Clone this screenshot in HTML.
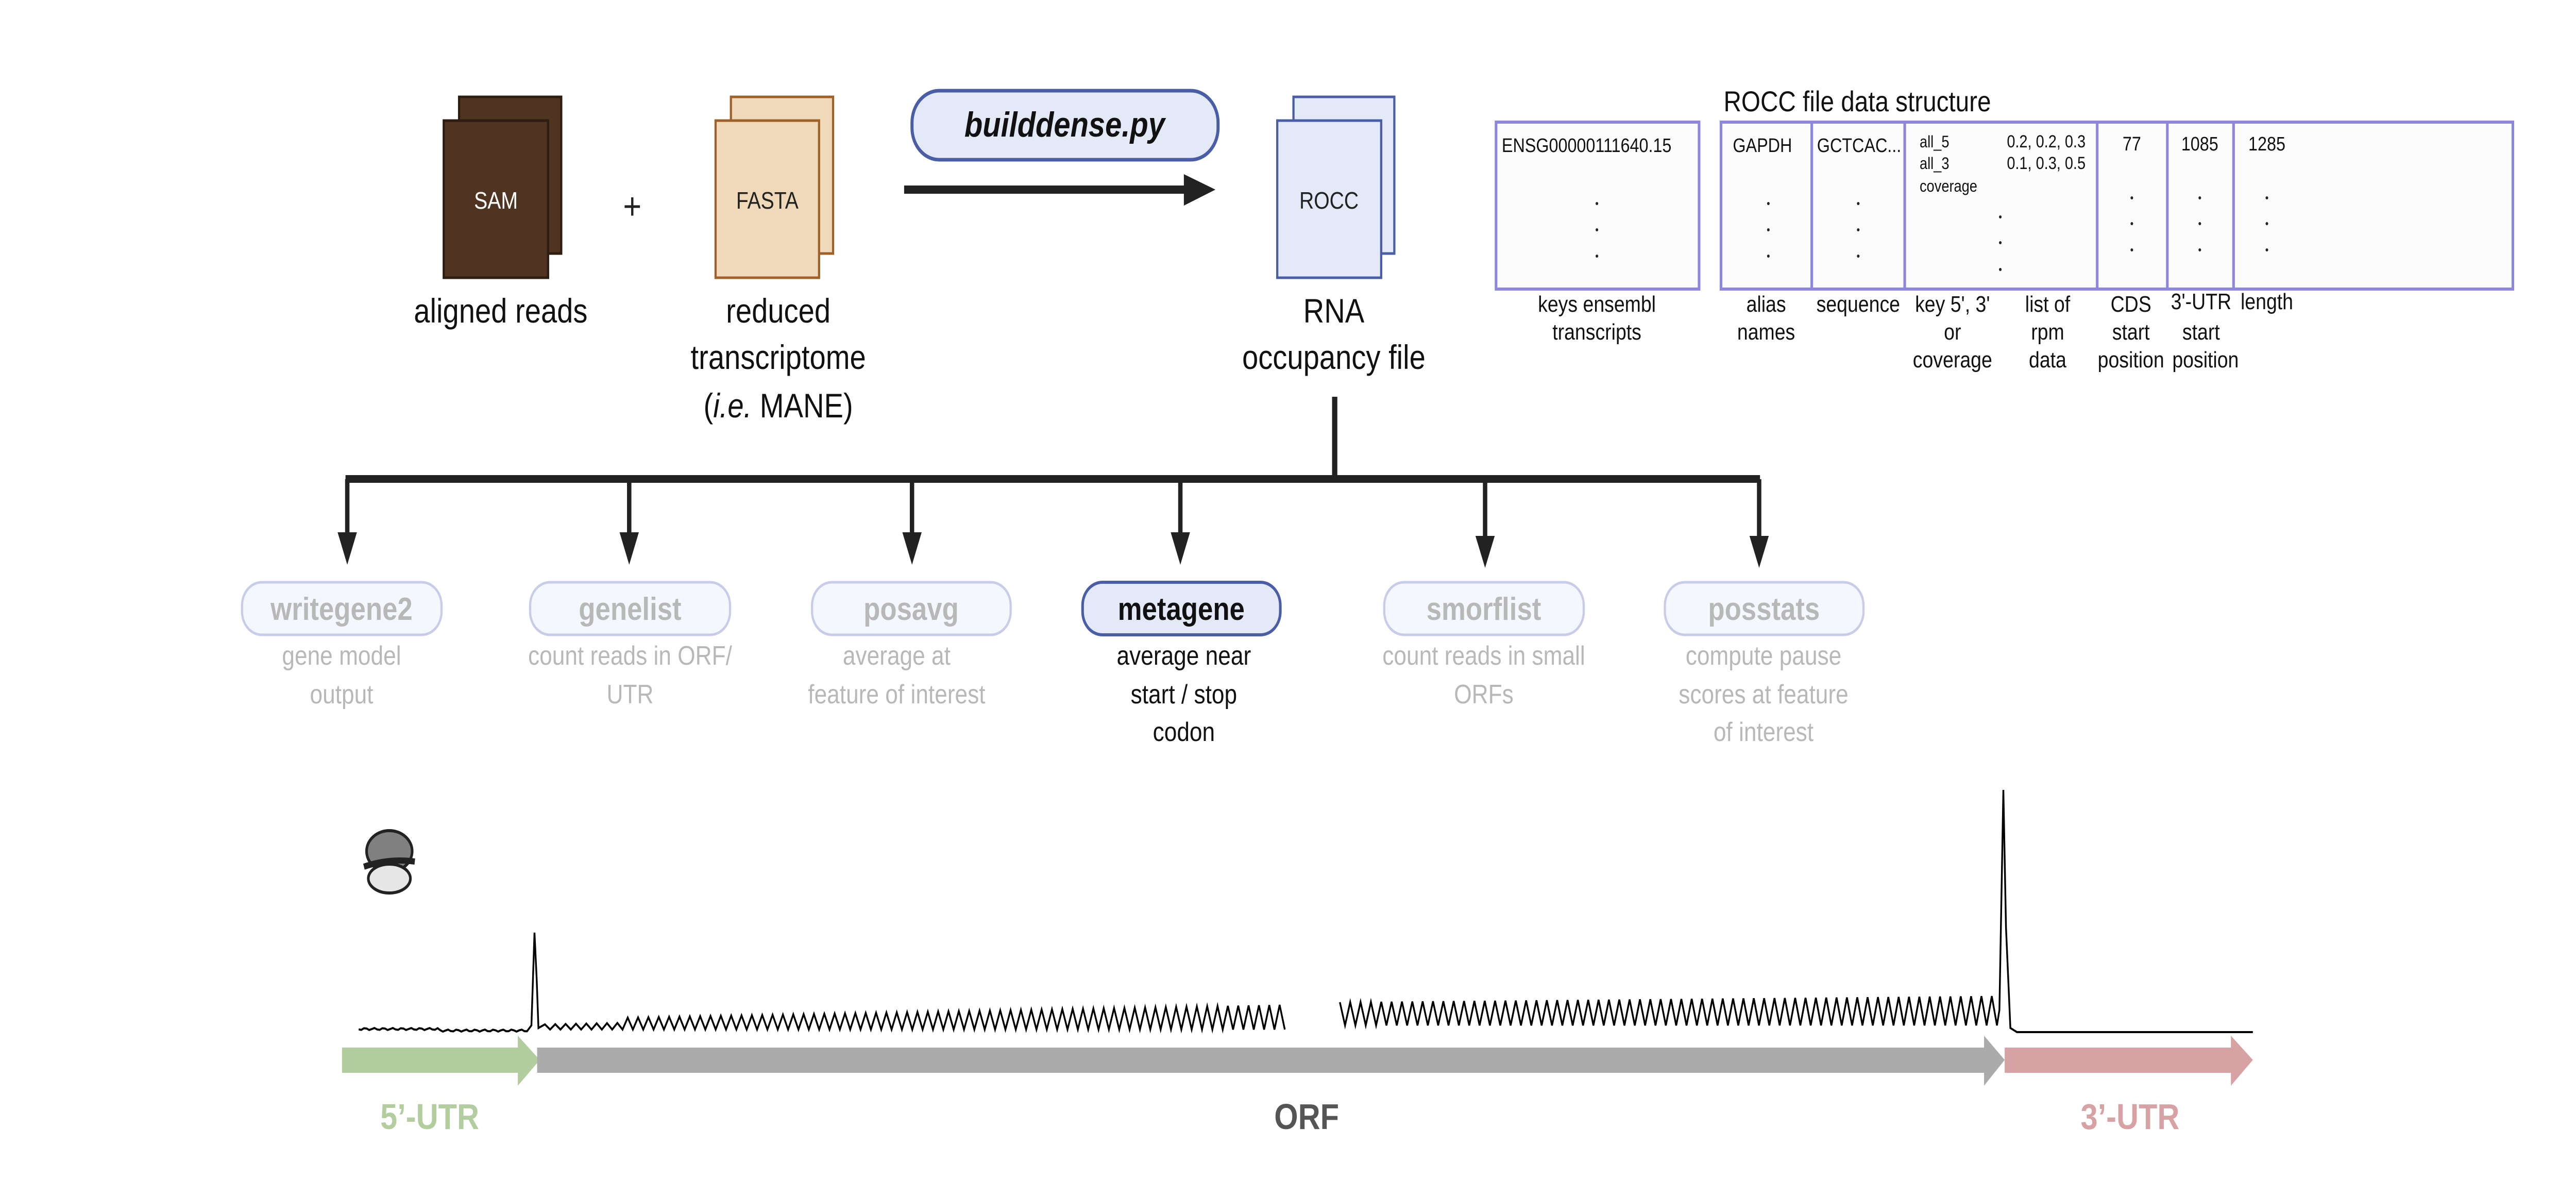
<!DOCTYPE html>
<html><head><meta charset="utf-8">
<style>
html,body{margin:0;padding:0;background:#fff;width:100%;height:100%;overflow:hidden;}
svg{display:block;font-family:"Liberation Sans",Arial,sans-serif;width:100vw;height:100vh;}
</style></head>
<body>
<svg id="s" viewBox="0 0 5875 2323" preserveAspectRatio="none" xmlns="http://www.w3.org/2000/svg">
<rect width="5875" height="2323" fill="#fff"/>
<!-- SAM -->
<rect x="1047" y="188" width="233" height="304" fill="#4f3422" stroke="#2e1c10" stroke-width="5"/>
<rect x="1012" y="234" width="238" height="305" fill="#4f3422" stroke="#2e1c10" stroke-width="5"/>
<text x="1131" y="405" font-size="46" fill="#fff" text-anchor="middle">SAM</text>
<text x="1442" y="425" font-size="72" fill="#222" text-anchor="middle">+</text>
<!-- FASTA -->
<rect x="1667" y="188" width="233" height="304" fill="#efd9b8" stroke="#a0602a" stroke-width="5"/>
<rect x="1632" y="234" width="236" height="305" fill="#efd9b8" stroke="#a0602a" stroke-width="5"/>
<text x="1750" y="405" font-size="46" fill="#222" text-anchor="middle">FASTA</text>
<!-- ROCC -->
<rect x="2950" y="188" width="230" height="304" fill="#e4e9f8" stroke="#4a5ea8" stroke-width="5"/>
<rect x="2913" y="234" width="237" height="305" fill="#e4e9f8" stroke="#4a5ea8" stroke-width="5"/>
<text x="3031" y="405" font-size="46" fill="#222" text-anchor="middle">ROCC</text>
<!-- pill -->
<rect x="2080" y="176" width="698" height="134" rx="62" fill="#e4e9f8" stroke="#4a5ea8" stroke-width="7"/>
<text x="2428" y="265" font-size="68" font-weight="bold" font-style="italic" fill="#111" text-anchor="middle">builddense.py</text>
<!-- arrow -->
<rect x="2062" y="360" width="640" height="16" fill="#222"/>
<polygon points="2700,338 2772,368 2700,399" fill="#222"/>
<!-- labels -->
<g font-size="66" fill="#111" text-anchor="middle">
<text x="1142" y="626">aligned reads</text>
<text x="1775" y="626">reduced</text>
<text x="1775" y="716">transcriptome</text>
<text x="1775" y="810">(<tspan font-style="italic">i.e.</tspan> MANE)</text>
<text x="3042" y="626">RNA</text>
<text x="3042" y="716">occupancy file</text>
</g>
<!-- ROCC table -->
<text x="3931" y="216" font-size="56" fill="#111">ROCC file data structure</text>
<g fill="none" stroke="#8e86e0" stroke-width="6">
<rect x="3412" y="237" width="463" height="324" fill="#fcfcfc"/>
<rect x="3925" y="237" width="1806" height="324" fill="#fcfcfc"/>
<line x1="4132" y1="237" x2="4132" y2="561"/>
<line x1="4344" y1="237" x2="4344" y2="561"/>
<line x1="4783" y1="237" x2="4783" y2="561"/>
<line x1="4943" y1="237" x2="4943" y2="561"/>
<line x1="5094" y1="237" x2="5094" y2="561"/>
</g>
<g font-size="38" fill="#111">
<text x="3425" y="295">ENSG00000111640.15</text>
<text x="3952" y="295">GAPDH</text>
<text x="4144" y="295">GCTCAC...</text>
<text x="4378" y="286" font-size="32">all_5</text>
<text x="4378" y="328" font-size="32">all_3</text>
<text x="4378" y="372" font-size="32">coverage</text>
<text x="4577" y="286" font-size="34">0.2, 0.2, 0.3</text>
<text x="4577" y="328" font-size="34">0.1, 0.3, 0.5</text>
<text x="4862" y="292" text-anchor="middle">77</text>
<text x="5017" y="292" text-anchor="middle">1085</text>
<text x="5170" y="292" text-anchor="middle">1285</text>
</g>
<g fill="#222">
<circle cx="3642" cy="395" r="3"/><circle cx="3642" cy="446" r="3"/><circle cx="3642" cy="497" r="3"/>
<circle cx="4033" cy="395" r="3"/><circle cx="4033" cy="446" r="3"/><circle cx="4033" cy="497" r="3"/>
<circle cx="4238" cy="395" r="3"/><circle cx="4238" cy="446" r="3"/><circle cx="4238" cy="497" r="3"/>
<circle cx="4562" cy="421" r="3"/><circle cx="4562" cy="471" r="3"/><circle cx="4562" cy="523" r="3"/>
<circle cx="4862" cy="384" r="3"/><circle cx="4862" cy="434" r="3"/><circle cx="4862" cy="485" r="3"/>
<circle cx="5017" cy="384" r="3"/><circle cx="5017" cy="434" r="3"/><circle cx="5017" cy="485" r="3"/>
<circle cx="5170" cy="384" r="3"/><circle cx="5170" cy="434" r="3"/><circle cx="5170" cy="485" r="3"/>
</g>
<g font-size="44" fill="#111" text-anchor="middle">
<text x="3642" y="605">keys ensembl</text><text x="3642" y="659">transcripts</text>
<text x="4028" y="605">alias</text><text x="4028" y="659">names</text>
<text x="4238" y="605">sequence</text>
<text x="4453" y="605">key 5', 3'</text><text x="4453" y="659">or</text><text x="4453" y="713">coverage</text>
<text x="4670" y="605">list of</text><text x="4670" y="659">rpm</text><text x="4670" y="713">data</text>
<text x="4860" y="605">CDS</text><text x="4860" y="659">start</text><text x="4860" y="713">position</text>
<text x="5020" y="600">3'-UTR</text><text x="5020" y="659">start</text><text x="5030" y="713">position</text>
<text x="5170" y="600">length</text>
</g>
<!-- tree -->
<rect x="3038" y="770" width="12" height="160" fill="#222"/>
<rect x="788" y="922" width="3226" height="15" fill="#222"/>
<g fill="#222">
<rect x="787" y="930" width="10" height="110"/><polygon points="770,1033 814,1033 792,1096"/>
<rect x="1430" y="930" width="10" height="110"/><polygon points="1413,1033 1457,1033 1435,1096"/>
<rect x="2075" y="930" width="10" height="110"/><polygon points="2058,1033 2102,1033 2080,1096"/>
<rect x="2687" y="930" width="10" height="110"/><polygon points="2670,1033 2714,1033 2692,1096"/>
<rect x="3382" y="930" width="10" height="115"/><polygon points="3365,1040 3409,1040 3387,1102"/>
<rect x="4007" y="930" width="10" height="115"/><polygon points="3990,1040 4034,1040 4012,1102"/>
</g>
<!-- pills -->
<g stroke="#c8cce8" stroke-width="5" fill="#f5f7fe">
<rect x="552" y="1130" width="455" height="102" rx="45"/>
<rect x="1209" y="1130" width="456" height="102" rx="45"/>
<rect x="1852" y="1130" width="453" height="102" rx="45"/>
<rect x="3157" y="1130" width="455" height="102" rx="45"/>
<rect x="3797" y="1130" width="453" height="102" rx="45"/>
</g>
<rect x="2469" y="1130" width="451" height="102" rx="45" fill="#e4e9f8" stroke="#4a5ea8" stroke-width="6"/>
<g font-size="62" font-weight="bold" text-anchor="middle" fill="#b8b8b8">
<text x="779" y="1203">writegene2</text>
<text x="1437" y="1203">genelist</text>
<text x="2078" y="1203">posavg</text>
<text x="2694" y="1203" fill="#111">metagene</text>
<text x="3384" y="1203">smorflist</text>
<text x="4023" y="1203">posstats</text>
</g>
<g font-size="52" text-anchor="middle" fill="#b8b8b8">
<text x="779" y="1290">gene model</text><text x="779" y="1365">output</text>
<text x="1437" y="1290">count reads in ORF/</text><text x="1437" y="1365">UTR</text>
<text x="2045" y="1290">average at</text><text x="2045" y="1365">feature of interest</text>
<g fill="#111"><text x="2700" y="1290">average near</text><text x="2700" y="1365">start / stop</text><text x="2700" y="1438">codon</text></g>
<text x="3384" y="1290">count reads in small</text><text x="3384" y="1365">ORFs</text>
<text x="4022" y="1290">compute pause</text><text x="4022" y="1365">scores at feature</text><text x="4022" y="1438">of interest</text>
</g>
<!-- ribosome -->
<ellipse cx="888" cy="1652" rx="52" ry="40" fill="#808080" stroke="#222" stroke-width="6"/>
<ellipse cx="888" cy="1705" rx="48" ry="28" fill="#e6e6e6" stroke="#222" stroke-width="6"/>
<path d="M830 1682 Q888 1665 946 1672" stroke="#222" stroke-width="12" fill="none"/>
<!-- bars -->
<polygon points="780,2033 1181,2033 1181,2010 1231,2057 1181,2107 1181,2082 780,2082" fill="#b2cd9e"/>
<polygon points="1225,2033 4525,2033 4525,2010 4572,2057 4525,2107 4525,2082 1225,2082" fill="#ababab"/>
<polygon points="4572,2033 5088,2033 5088,2010 5138,2057 5088,2107 5088,2082 4572,2082" fill="#d6a2a3"/>
<g font-size="70" font-weight="bold" text-anchor="middle">
<text x="980" y="2191" fill="#b2cd9e">5’-UTR</text>
<text x="2980" y="2191" fill="#555">ORF</text>
<text x="4858" y="2191" fill="#d6a2a3">3’-UTR</text>
</g>
<path id="tr" d="" stroke="#000" stroke-width="4" fill="none"/>
</svg>
<script>
(function(){
var p=[];var x;
for(x=818;x<=1205;x+=6){p.push([x,2000+Math.sin(x*0.3)*2+(x<1000?-3:0)]);}
p.push([1212,1990],[1219,1810],[1224,1900],[1228,1995]);
var per=23.6;
for(x=1231;x<2918;x+=per){var t=(x-1231)/(2918-1231);p.push([x+per/2,1978-28*t-(x<1400?-10:0)]);p.push([x+per,1998]);}
p.push("M");
for(x=3044;x<4545;x+=per){var t=(x-3044)/(4545-3044);p.push([x+per/2,1945-12*t]);p.push([x+per,1990]);}
p.push([4560,1960],[4569,1533],[4575,1800],[4585,1995],[4600,2003]);
for(x=4610;x<=5144;x+=8){p.push([x,2003]);}
var d="",m=true;
for(var i=0;i<p.length;i++){if(p[i]==="M"){m=true;continue;}d+=(m?"M":"L")+p[i][0].toFixed(1)+" "+p[i][1].toFixed(1)+" ";m=false;}
document.getElementById("tr").setAttribute("d",d);
})();
</script>
</body></html>
